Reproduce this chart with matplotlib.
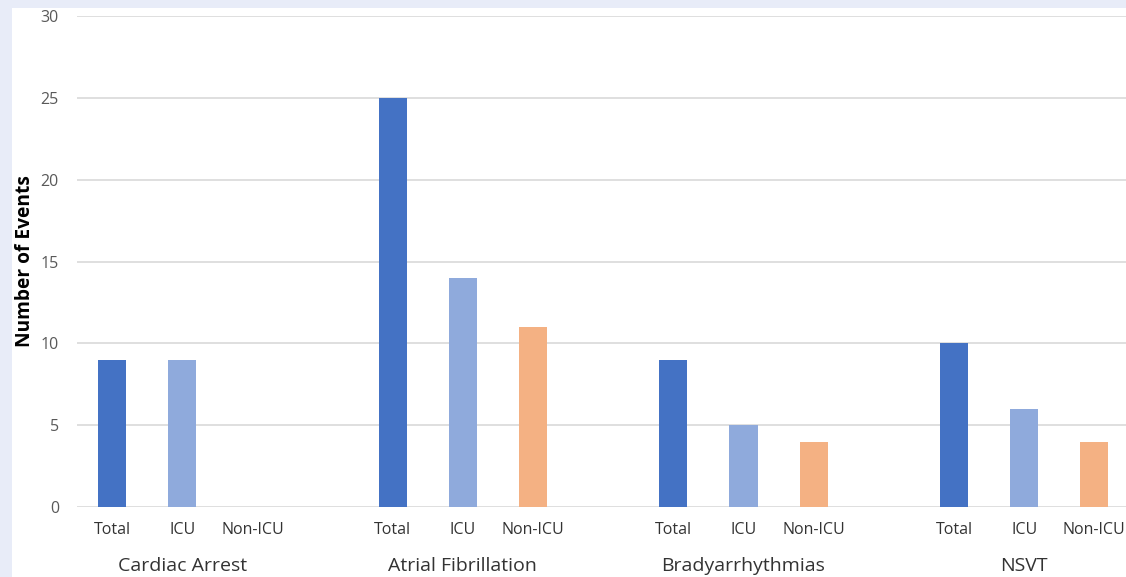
import numpy as np
import matplotlib.pyplot as plt
from matplotlib.patches import Rectangle

plt.rcParams['font.family'] = ['Open Sans', 'DejaVu Sans']

groups = ['Cardiac Arrest', 'Atrial Fibrillation', 'Bradyarrhythmias', 'NSVT']
series = ['Total', 'ICU', 'Non-ICU']
total = [9, 25, 9, 10]
icu = [9, 14, 5, 6]
non_icu = [0, 11, 4, 4]
colors = ['#4472C4', '#8FAADC', '#F4B183']

fig = plt.figure(figsize=(11.26, 5.77), dpi=100, facecolor='#E8ECF8')
# white chart area over the tinted page background
fig.patches.append(Rectangle((12 / 1126, 0), 1, 1 - 8 / 577,
                             transform=fig.transFigure, facecolor='white',
                             edgecolor='none', zorder=-10))

ax = fig.add_axes([77 / 1126, 70 / 577, 1 - 77 / 1126 + 0.003, 491 / 577])
ax.set_facecolor('none')

x_pos = []
x_lab = []
for g, vals in enumerate(zip(total, icu, non_icu)):
    for s, v in enumerate(vals):
        pos = g * 4 + s
        ax.bar(pos, v, width=0.4, color=colors[s], zorder=3)
        x_pos.append(pos)
        x_lab.append(series[s])

ax.set_xticks(x_pos)
ax.set_xticklabels(x_lab, fontsize=11.5, color='#333333')
ax.tick_params(axis='x', length=0, pad=11)
ax.set_xlim(-0.5, 14.5)

for g, name in enumerate(groups):
    ax.annotate(name, xy=(g * 4 + 1, 0), xycoords=('data', 'axes fraction'),
                xytext=(0, -42.5), textcoords='offset points',
                ha='center', va='center', fontsize=14, color='#333333')

ax.set_ylim(0, 30)
ax.set_yticks(np.arange(0, 31, 5))
ax.tick_params(axis='y', length=0, pad=13, labelsize=11.5, labelcolor='#595959')
ax.yaxis.grid(True, color='#D9D9D9', linewidth=1.2, zorder=0)
ax.set_axisbelow(True)
for sp in ax.spines.values():
    sp.set_visible(False)

ax.set_ylabel('Number of Events', fontsize=13.8, fontweight='bold', labelpad=4)

fig.savefig('out.png', dpi=100, facecolor=fig.get_facecolor())
